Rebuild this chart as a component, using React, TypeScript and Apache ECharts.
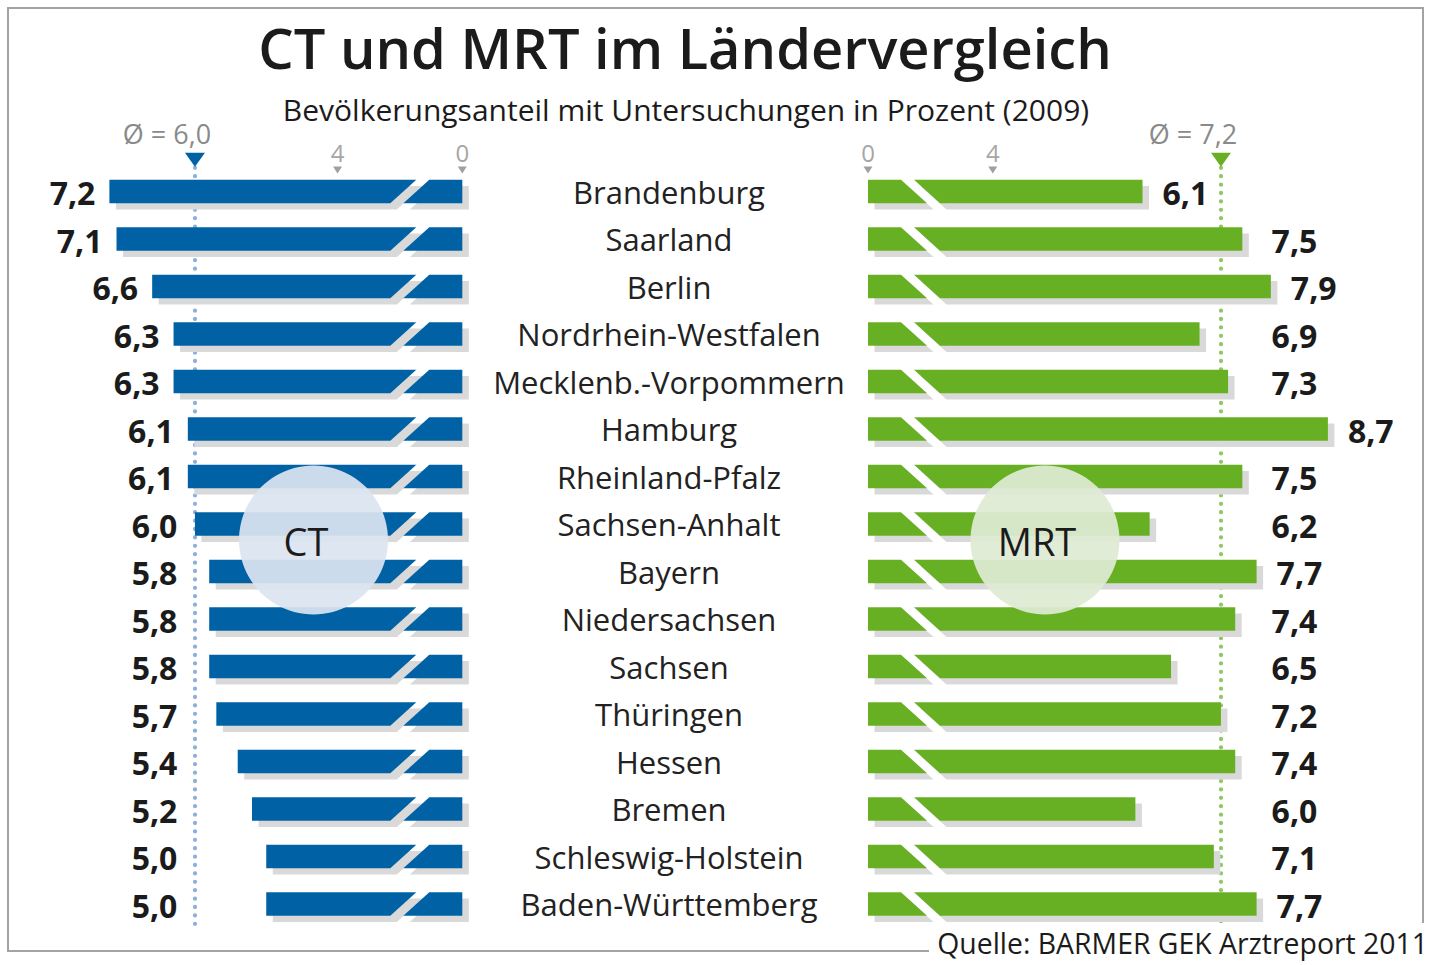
import React, { useEffect, useRef } from 'react';
import * as echarts from 'echarts';

// ---------- texts ----------
const TITLE = 'CT und MRT im Ländervergleich';
const SUBTITLE = 'Bevölkerungsanteil mit Untersuchungen in Prozent (2009)';
const SOURCE = 'Quelle: BARMER GEK Arztreport 2011';
const CT_NAME = 'CT';
const MRT_NAME = 'MRT';

// ---------- data ----------
const STATES = [
  'Brandenburg',
  'Saarland',
  'Berlin',
  'Nordrhein-Westfalen',
  'Mecklenb.-Vorpommern',
  'Hamburg',
  'Rheinland-Pfalz',
  'Sachsen-Anhalt',
  'Bayern',
  'Niedersachsen',
  'Sachsen',
  'Thüringen',
  'Hessen',
  'Bremen',
  'Schleswig-Holstein',
  'Baden-Württemberg',
];
const CT_VALUES = [7.2, 7.1, 6.6, 6.3, 6.3, 6.1, 6.1, 6.0, 5.8, 5.8, 5.8, 5.7, 5.4, 5.2, 5.0, 5.0];
const MRT_VALUES = [6.1, 7.5, 7.9, 6.9, 7.3, 8.7, 7.5, 6.2, 7.7, 7.4, 6.5, 7.2, 7.4, 6.0, 7.1, 7.7];
const CT_AVG = 6.0;
const MRT_AVG = 7.2;

// axis ticks ("0" sits at the start of the broken axis)
const TICK_LABELS = [0, 4];
const AXIS_BREAK_START = 2.25; // broken axis: bars begin here, labelled "0"
const CT_AXIS_MAX = 8.5;
const MRT_AXIS_MAX = 9.0;
const CT_LABEL_COLUMN = 6.05; // value labels never move right of this value
const MRT_LABEL_COLUMN = 7.63; // value labels never move left of this value

// ---------- styles ----------
const FONT = '"Open Sans", "Noto Sans", "DejaVu Sans", sans-serif';
const CT_COLOR = '#0062a4';
const MRT_COLOR = '#68b023';
const SHADOW_COLOR = '#d9d9d9';
const TEXT_COLOR = '#1b1b1b';
const TICK_COLOR = '#a6a6a6';

const fmt = (v: number) => v.toFixed(1).replace('.', ',');
const tickPos = (t: number) => (t === 0 ? AXIS_BREAK_START : t);

function barRenderer(side: 'left' | 'right', color: string, labelCol: number) {
  return (params: any, api: any) => {
    const v = api.value(0) as number;
    const idx = api.value(1) as number;
    const zero = api.coord([AXIS_BREAK_START, idx]);
    const end = api.coord([v, idx]);
    const band = api.size([0, 1])[1];
    const h = band * 0.495;
    const yc = zero[1];
    const y0 = yc - h / 2;
    const y1 = yc + h / 2;
    const zx = zero[0];
    const ex = end[0];
    const d = side === 'left' ? -1 : 1;
    const sx = 6.5;
    const sy = 6.3;
    const parts = (dx: number, dy: number, fill: string) => [
      {
        type: 'polygon',
        shape: {
          points: [
            [zx + dx, y0 + dy],
            [zx + d * 33 + dx, y0 + dy],
            [zx + d * 59 + dx, y1 + dy],
            [zx + dx, y1 + dy],
          ],
        },
        style: { fill },
      },
      {
        type: 'polygon',
        shape: {
          points: [
            [zx + d * 46 + dx, y0 + dy],
            [ex + dx, y0 + dy],
            [ex + dx, y1 + dy],
            [zx + d * 72 + dx, y1 + dy],
          ],
        },
        style: { fill },
      },
    ];
    const col = api.coord([labelCol, idx])[0];
    let tx: number;
    let align: string;
    if (side === 'left') {
      tx = Math.min(ex, col) - 14;
      align = 'right';
    } else {
      tx = (params.dataIndex === 0 ? ex : Math.max(ex, col)) + 20;
      align = 'left';
    }
    return {
      type: 'group',
      children: [
        ...parts(sx, sy, SHADOW_COLOR),
        ...parts(0, 0, color),
        {
          type: 'text',
          x: tx,
          y: yc + 1,
          style: {
            text: fmt(v),
            fill: TEXT_COLOR,
            fontSize: 32,
            fontWeight: 700,
            fontFamily: FONT,
            align,
            verticalAlign: 'middle',
            textAlign: align,
            textVerticalAlign: 'middle',
          },
        },
      ],
    };
  };
}

function xAxis(gridIndex: number, inverse: boolean, max: number) {
  return {
    type: 'value',
    gridIndex,
    min: AXIS_BREAK_START,
    max,
    inverse,
    position: 'top',
    axisLine: { show: false },
    axisTick: { show: false },
    splitLine: { show: false },
    axisLabel: {
      customValues: TICK_LABELS.map(tickPos),
      margin: 3,
      formatter: (v: number) => (v === AXIS_BREAK_START ? '0' : String(v)),
      fontSize: 24,
      lineHeight: 24,
      color: TICK_COLOR,
      fontFamily: FONT,
    },
  };
}

function avgMarkers(avg: number, color: string, dotColor: string) {
  return {
    markLine: {
      silent: true,
      z: 1,
      symbol: ['none', 'none'],
      label: { show: false },
      lineStyle: { color: dotColor, width: 4.2, type: [0.1, 8.3], cap: 'round' },
      data: [{ xAxis: avg }],
    },
    markPoint: {
      silent: true,
      data: [
        {
          coord: [avg, 0],
          symbol: 'path://M0,0L20,0L10,14Z',
          symbolSize: [20, 14],
          symbolOffset: [0, -31.8],
          itemStyle: { color },
          label: {
            show: true,
            position: 'top',
            distance: 6,
            offset: [-28, 0],
            formatter: () => `Ø = ${fmt(avg)}`,
            color: '#8a8a8a',
            fontSize: 27,
            fontFamily: FONT,
          },
        },
        // small downward tick markers under the axis labels
        ...TICK_LABELS.map((t) => ({
          coord: [tickPos(t), 0],
          symbol: 'path://M0,0L8,0L4,6Z',
          symbolSize: [9, 7],
          symbolOffset: [0, -21.5],
          itemStyle: { color: '#a0a0a0' },
          label: { show: false },
        })),
      ],
    },
  };
}

export default function App() {
  const ref = useRef<HTMLDivElement>(null);
  useEffect(() => {
    const chart = echarts.init(ref.current!, null, { renderer: 'svg' });
    const option: any = {
      animation: false,
      backgroundColor: '#ffffff',
      textStyle: { fontFamily: FONT },
      grid: [
        { left: 16.7, width: 445.6, top: 167.75, height: 760 },
        { left: 868, width: 481.3, top: 167.75, height: 760 },
      ],
      xAxis: [xAxis(0, true, CT_AXIS_MAX), xAxis(1, false, MRT_AXIS_MAX)],
      yAxis: [
        {
          type: 'category',
          gridIndex: 0,
          data: STATES,
          inverse: true,
          position: 'right',
          axisLine: { show: false },
          axisTick: { show: false },
          splitLine: { show: false },
          axisLabel: {
            interval: 0,
            margin: 206.7,
            align: 'center',
            fontSize: 31,
            color: '#222222',
            fontFamily: FONT,
          },
        },
        {
          type: 'category',
          gridIndex: 1,
          data: STATES,
          inverse: true,
          show: false,
        },
      ],
      series: [
        {
          type: 'custom',
          name: CT_NAME,
          xAxisIndex: 0,
          yAxisIndex: 0,
          clip: false,
          z: 2,
          encode: { x: 0, y: 1 },
          data: CT_VALUES.map((v, i) => [v, i]),
          renderItem: barRenderer('left', CT_COLOR, CT_LABEL_COLUMN),
          ...avgMarkers(CT_AVG, CT_COLOR, '#8cafdb'),
        },
        {
          type: 'custom',
          name: MRT_NAME,
          xAxisIndex: 1,
          yAxisIndex: 1,
          clip: false,
          z: 2,
          encode: { x: 0, y: 1 },
          data: MRT_VALUES.map((v, i) => [v, i]),
          renderItem: barRenderer('right', MRT_COLOR, MRT_LABEL_COLUMN),
          ...avgMarkers(MRT_AVG, MRT_COLOR, '#90c663'),
        },
      ],
      graphic: [
        {
          type: 'rect',
          silent: true,
          z: 0,
          shape: { x: 8, y: 8, width: 1415, height: 943 },
          style: { fill: 'none', stroke: '#a3a3a3', lineWidth: 2 },
        },
        {
          type: 'text',
          x: 685,
          y: 47,
          z: 10,
          style: {
            text: TITLE,
            fill: TEXT_COLOR,
            fontSize: 56,
            fontWeight: 600,
            fontFamily: FONT,
            align: 'center',
            verticalAlign: 'middle',
            textAlign: 'center',
            textVerticalAlign: 'middle',
          },
        },
        {
          type: 'text',
          x: 686,
          y: 109,
          z: 10,
          style: {
            text: SUBTITLE,
            fill: TEXT_COLOR,
            fontSize: 30,
            fontFamily: FONT,
            align: 'center',
            verticalAlign: 'middle',
            textAlign: 'center',
            textVerticalAlign: 'middle',
          },
        },
        {
          type: 'circle',
          z: 100,
          silent: true,
          shape: { cx: 313.5, cy: 540, r: 74.5 },
          style: { fill: '#dce4f0', opacity: 0.93 },
        },
        {
          type: 'text',
          x: 306,
          y: 541,
          z: 101,
          style: {
            text: CT_NAME,
            fill: TEXT_COLOR,
            fontSize: 38,
            fontFamily: FONT,
            align: 'center',
            verticalAlign: 'middle',
            textAlign: 'center',
            textVerticalAlign: 'middle',
          },
        },
        {
          type: 'circle',
          z: 100,
          silent: true,
          shape: { cx: 1045, cy: 540, r: 74.5 },
          style: { fill: '#dfebd4', opacity: 0.93 },
        },
        {
          type: 'text',
          x: 1037,
          y: 541,
          z: 101,
          style: {
            text: MRT_NAME,
            fill: TEXT_COLOR,
            fontSize: 38,
            fontFamily: FONT,
            align: 'center',
            verticalAlign: 'middle',
            textAlign: 'center',
            textVerticalAlign: 'middle',
          },
        },
        {
          type: 'rect',
          silent: true,
          z: 5,
          shape: { x: 929, y: 923, width: 521, height: 42 },
          style: { fill: '#ffffff' },
        },
        {
          type: 'text',
          x: 1428,
          y: 943,
          z: 6,
          style: {
            text: SOURCE,
            fill: TEXT_COLOR,
            fontSize: 28.4,
            fontFamily: FONT,
            align: 'right',
            verticalAlign: 'middle',
            textAlign: 'right',
            textVerticalAlign: 'middle',
          },
        },
      ],
    };
    chart.setOption(option);
    return () => chart.dispose();
  }, []);
  return (
    <div
      ref={ref}
      style={{ position: 'absolute', left: 0, top: 0, width: 1450, height: 965, background: '#fff' }}
    />
  );
}
